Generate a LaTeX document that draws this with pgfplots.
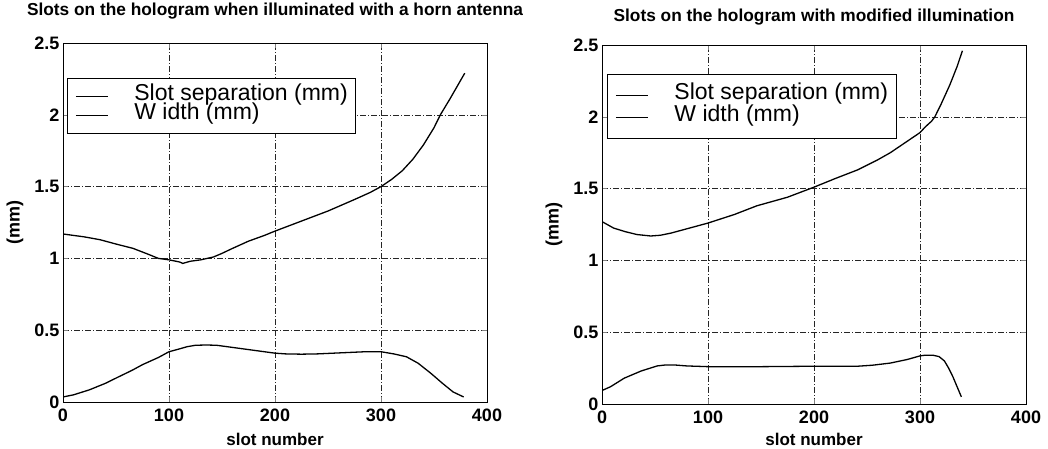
\documentclass[border=0pt]{standalone}
\usepackage{pgfplots}
\pgfplotsset{compat=1.18}
\usepackage{fontspec}
\setmainfont{Liberation Sans}
\begin{document}
\begin{tikzpicture}
\useasboundingbox (0pt,0pt) rectangle (1048pt,449pt);
\pgfplotsset{
  mystyle/.style={
    scale only axis, width=424pt, height=359pt,
    xmin=0, xmax=400, ymin=0, ymax=2.5,
    xtick={0,100,200,300,400}, ytick={0,0.5,1,1.5,2,2.5},
    tick align=inside, major tick length=5pt,
    grid=major,
    major grid style={black!85, line width=0.5pt, dash pattern=on 6pt off 2pt on 1pt off 2pt},
    axis line style={line width=0.8pt},
    /pgf/number format/assume math mode=true,
    ticklabel style={font=\bfseries\fontsize{18}{18}\selectfont},
    xticklabel style={yshift=-3pt},
    xlabel={slot number}, ylabel={(mm)},
    xlabel style={at={(axis description cs:0.5,0)}, anchor=center, font=\bfseries\fontsize{17}{17}\selectfont},
    ylabel style={at={(axis description cs:0,0.5)}, anchor=center, yshift=48pt, font=\bfseries\fontsize{18}{18}\selectfont},
    title style={at={(axis description cs:0.5,1)}, anchor=center, font=\bfseries\fontsize{17.3}{17.3}\selectfont},
    legend cell align=left,
    legend image code/.code={\draw[line width=1pt] (0pt,0pt) -- (32pt,0pt);},
    legend style={anchor=north west, draw=black, line width=0.8pt,
      font=\fontsize{23}{23}\selectfont,
      nodes={inner ysep=0pt, inner xsep=0pt, text height=12pt, text depth=4pt},
      inner xsep=8pt,
      /tikz/every odd column/.style={column sep=26pt}},
  }
}
\begin{axis}[mystyle, at={(63pt,47pt)}, anchor=south west,
  title={Slots on the hologram when illuminated with a horn antenna},
  title style={yshift=26pt},
  xlabel style={yshift=-37pt},
  legend style={at={(rel axis cs:0.0094,0.9025)}, row sep=3pt, inner ysep=10pt}]
\addplot[black, line width=1.3pt] coordinates {
(0,1.17) (10,1.16) (20,1.15) (35,1.13) (50,1.10) (66,1.07) (80,1.03) (90,1.00)
(100,0.99) (110,0.975) (113,0.965) (120,0.98) (130,0.99) (142,1.01) (150,1.035)
(160,1.07) (175,1.12) (190,1.16) (200,1.19) (225,1.26) (250,1.33) (275,1.41)
(290,1.46) (300,1.50) (310,1.55) (320,1.61) (330,1.69) (340,1.79) (350,1.91)
(356,2.00) (365,2.11) (372,2.20) (379,2.29)};
\addlegendentry{Slot separation (mm)}
\addplot[black, line width=1.3pt] coordinates {
(0,0.035) (10,0.05) (25,0.085) (40,0.13) (51,0.17) (65,0.22) (75,0.26) (90,0.31)
(100,0.35) (110,0.37) (117,0.385) (125,0.395) (135,0.397) (145,0.395) (160,0.38)
(180,0.36) (200,0.34) (210,0.335) (225,0.333) (240,0.335) (255,0.34) (270,0.345)
(285,0.35) (300,0.35) (312,0.335) (324,0.315) (335,0.27) (347,0.20) (358,0.13)
(368,0.07) (378,0.035)};
\addlegendentry{W idth (mm)}
\end{axis}
\begin{axis}[mystyle, at={(602pt,45pt)}, anchor=south west,
  title={Slots on the hologram with modified illumination},
  title style={yshift=22pt},
  xlabel style={yshift=-35pt},
  legend style={at={(rel axis cs:0.012,0.919)}, row sep=6pt, inner ysep=13pt}]
\addplot[black, line width=1.3pt] coordinates {
(0,1.27) (11,1.225) (22,1.20) (33,1.18) (46,1.17) (55,1.175) (65,1.19) (80,1.22)
(100,1.26) (125,1.32) (146,1.38) (175,1.44) (200,1.51) (220,1.57) (241,1.63)
(260,1.70) (272,1.75) (290,1.84) (300,1.89) (305,1.93) (311,1.97) (314,2.00)
(320,2.09) (328,2.22) (335,2.35) (340,2.46)};
\addlegendentry{Slot separation (mm)}
\addplot[black, line width=1.3pt] coordinates {
(0,0.094) (8,0.12) (21,0.18) (37,0.23) (52,0.265) (60,0.272) (68,0.272) (80,0.265)
(100,0.26) (150,0.26) (200,0.263) (241,0.263) (255,0.27) (272,0.285) (288,0.31)
(300,0.335) (305,0.34) (312,0.34) (318,0.33) (323,0.30) (327,0.25) (331,0.19)
(335,0.12) (339,0.05)};
\addlegendentry{W idth (mm)}
\end{axis}
\end{tikzpicture}
\end{document}
